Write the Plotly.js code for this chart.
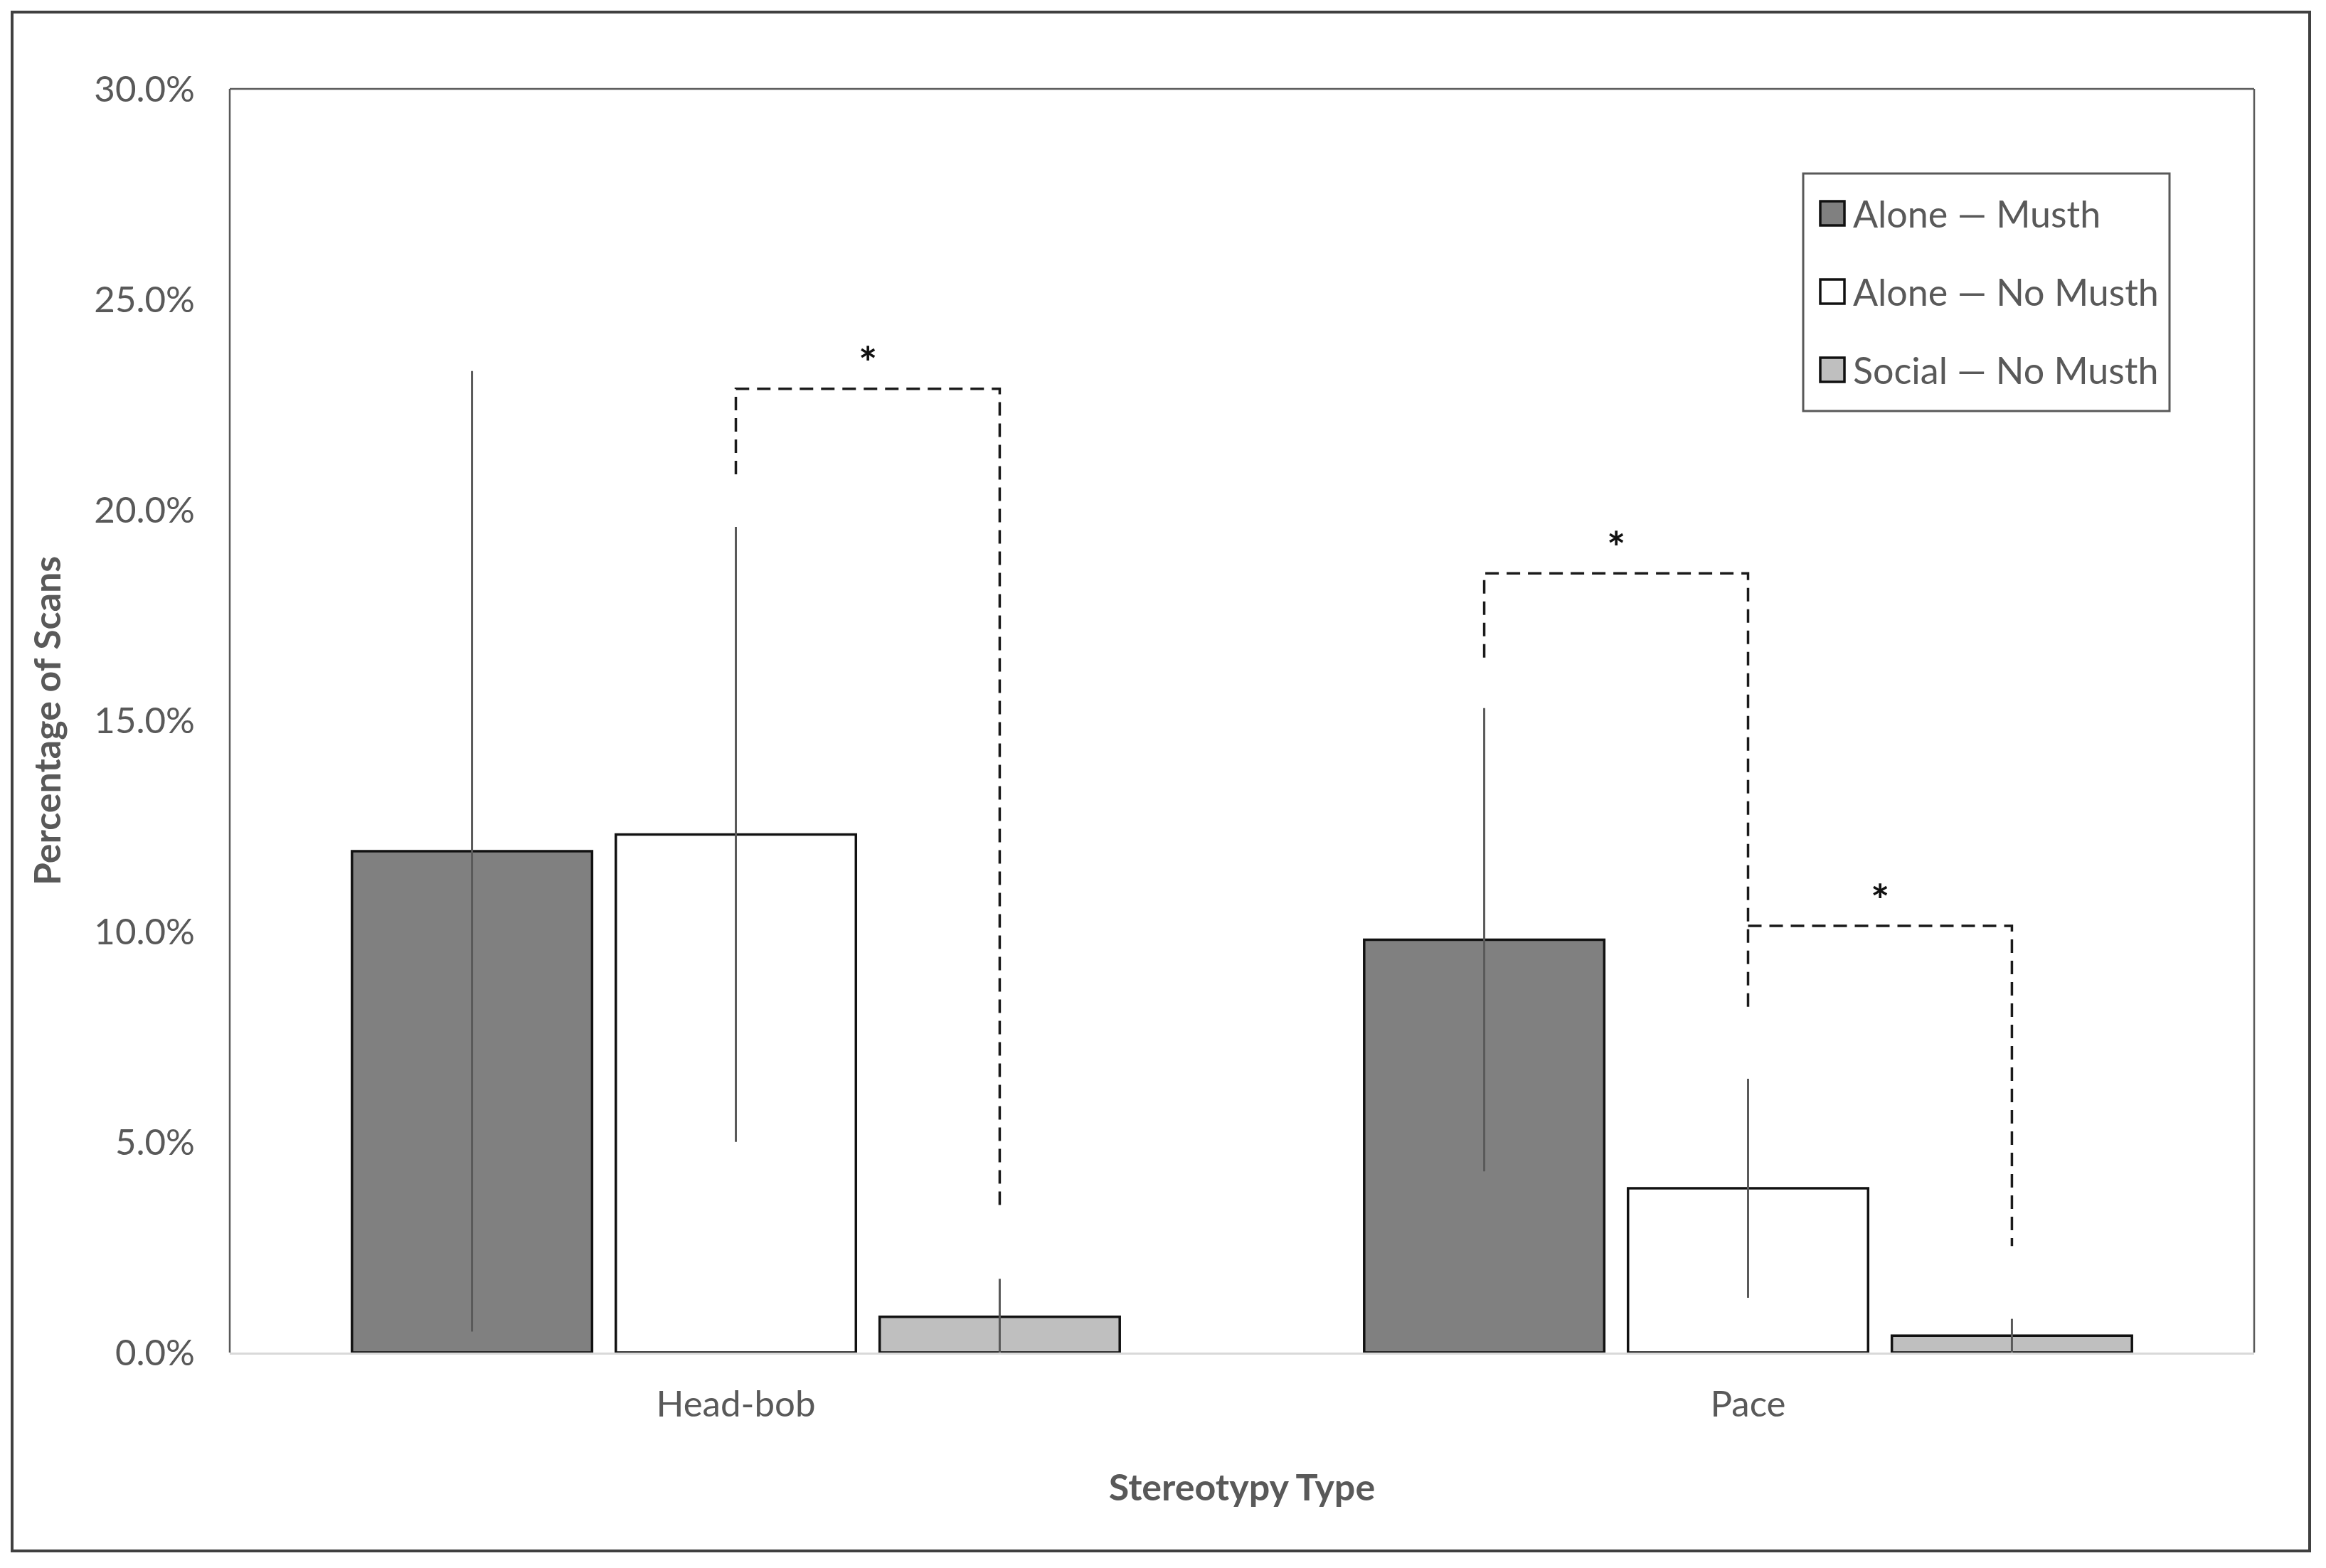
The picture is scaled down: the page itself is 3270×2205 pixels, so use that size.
<!DOCTYPE html>
<html>
<head>
<meta charset="utf-8">
<script src="https://cdn.plot.ly/plotly-3.0.1.min.js"></script>
<style>
  html, body { margin: 0; padding: 0; background: #fff; }
  #plot { width: 3270px; height: 2205px; }
</style>
</head>
<body>
<div id="plot"></div>
<script>
// Data (percentage of scans)
const categories = ['Head-bob', 'Pace'];
const seriesNames = ['Alone \u2014 Musth', 'Alone \u2014 No Musth', 'Social \u2014 No Musth'];
const aloneMusth = [11.9, 9.8];
const aloneNoMusth = [12.3, 3.9];
const socialNoMusth = [0.85, 0.4];
const aloneMusthErr = [11.4, 5.5];
const aloneNoMusthErr = [7.3, 2.6];
const socialNoMusthErr = [0.9, 0.4];

// Significance brackets: category index, series from/to, leg ends and top (in %)
const bracketCat = [0, 1, 1];
const bracketFrom = [1, 0, 1];
const bracketTo = [2, 1, 2];
const bracketLeftEnd = [20.85, 16.5, 10.13];
const bracketTop = [22.88, 18.5, 10.13];
const bracketRightEnd = [3.45, 8.15, 2.53];
const bracketLabel = ['*', '*', '*'];

const yTicks = [0, 5, 10, 15, 20, 25, 30];

// Styling
const W = 3270, H = 2205;
const margin = { l: 323, r: 101, t: 125, b: 303 };
const barGap = 0.218;
const barGroupGap = 0.09;
const fills = ['#808080', '#ffffff', '#bfbfbf'];
const textColor = '#595959';
const fontFamily = 'Lato, "Open Sans", sans-serif';

const values = [aloneMusth, aloneNoMusth, socialNoMusth];
const errors = [aloneMusthErr, aloneNoMusthErr, socialNoMusthErr];
const xPos = categories.map((c, i) => i);

const traces = seriesNames.map((name, s) => ({
    type: 'bar',
    name: name,
    x: xPos,
    y: values[s],
    marker: { color: fills[s], line: { color: '#111', width: 3.5 } },
    error_y: {
        type: 'data',
        array: errors[s],
        visible: true,
        color: '#595959',
        thickness: 3,
        width: 0
    },
    showlegend: false,
    hovertemplate: name + ': %{y:.1f}%<extra></extra>'
}));

// bracket x positions follow the grouped-bar geometry
const slot = (1 - barGap) / seriesNames.length;
function offset(s) {
    return (s - (seriesNames.length - 1) / 2) * slot;
}

const annotations = [];
bracketCat.forEach((c, i) => {
    const x0 = c + offset(bracketFrom[i]);
    const x1 = c + offset(bracketTo[i]);
    traces.push({
        type: 'scatter',
        mode: 'lines',
        x: [x0, x0, x1, x1],
        y: [bracketLeftEnd[i], bracketTop[i], bracketTop[i], bracketRightEnd[i]],
        line: { color: '#1a1a1a', width: 3.5, dash: '19px,11px' },
        showlegend: false,
        hoverinfo: 'skip'
    });
    annotations.push({
        x: (x0 + x1) / 2,
        y: bracketTop[i] + 0.9,
        text: '<b>' + bracketLabel[i] + '</b>',
        showarrow: false,
        yanchor: 'middle',
        yshift: -16,
        font: { family: fontFamily, size: 62, color: '#111' }
    });
});

// pixel -> paper helpers for the frame and legend box
const plotW = W - margin.l - margin.r;
const plotH = H - margin.t - margin.b;
const px = v => (v - margin.l) / plotW;
const py = v => (H - margin.b - v) / plotH;

const shapes = [
    // outer frame
    { type: 'rect', xref: 'paper', yref: 'paper',
      x0: px(17), x1: px(3247), y0: py(2181), y1: py(17),
      line: { color: '#404040', width: 4 } },
    // plot box (left, top, right)
    { type: 'line', xref: 'paper', yref: 'paper', x0: 0, x1: 0, y0: 0, y1: 1,
      line: { color: '#595959', width: 2.5 } },
    { type: 'line', xref: 'paper', yref: 'paper', x0: 0, x1: 1, y0: 1, y1: 1,
      line: { color: '#595959', width: 2.5 } },
    { type: 'line', xref: 'paper', yref: 'paper', x0: 1, x1: 1, y0: 0, y1: 1,
      line: { color: '#595959', width: 2.5 } },
    // legend box
    { type: 'rect', xref: 'paper', yref: 'paper',
      x0: px(2535), x1: px(3050), y0: py(578), y1: py(244),
      fillcolor: 'white', line: { color: '#595959', width: 3 } }
];

// legend entries: swatch + label per series
const legendRowY = [300, 410, 520];
const swatch = 34;
seriesNames.forEach((name, s) => {
    const cy = legendRowY[s];
    shapes.push({
        type: 'rect', xref: 'paper', yref: 'paper',
        x0: px(2559), x1: px(2559 + swatch),
        y0: py(cy + swatch / 2), y1: py(cy - swatch / 2),
        fillcolor: fills[s], line: { color: '#111', width: 3.5 }
    });
    annotations.push({
        xref: 'paper', yref: 'paper',
        x: px(2603), y: py(cy),
        xanchor: 'left', yanchor: 'middle',
        text: name,
        showarrow: false,
        font: { family: fontFamily, size: 52, color: textColor }
    });
});

const layout = {
    width: W,
    height: H,
    margin: margin,
    paper_bgcolor: 'white',
    plot_bgcolor: 'white',
    barmode: 'group',
    bargap: barGap,
    bargroupgap: barGroupGap,
    font: { family: fontFamily, color: textColor },
    xaxis: {
        range: [-0.5, categories.length - 0.5],
        tickvals: xPos,
        ticktext: categories,
        showgrid: false,
        zeroline: false,
        showline: true,
        linecolor: '#d9d9d9',
        linewidth: 3,
        ticks: '',
        ticklabelstandoff: 26,
        tickfont: { size: 51, color: textColor },
        title: {
            text: '<b>Stereotypy Type</b>',
            font: { size: 52, color: textColor },
            standoff: 72
        }
    },
    yaxis: {
        range: [0, 30],
        tickvals: yTicks,
        ticktext: yTicks.map(v => v.toFixed(1) + '%'),
        showgrid: false,
        zeroline: false,
        showline: false,
        ticks: '',
        ticklabelstandoff: 48,
        tickfont: { size: 51, color: textColor },
        title: {
            text: '<b>Percentage of Scans</b>',
            font: { size: 52, color: textColor },
            standoff: 30
        }
    },
    showlegend: false,
    shapes: shapes,
    annotations: annotations
};

Plotly.newPlot('plot', traces, layout, { displayModeBar: false, responsive: false });
</script>
</body>
</html>
